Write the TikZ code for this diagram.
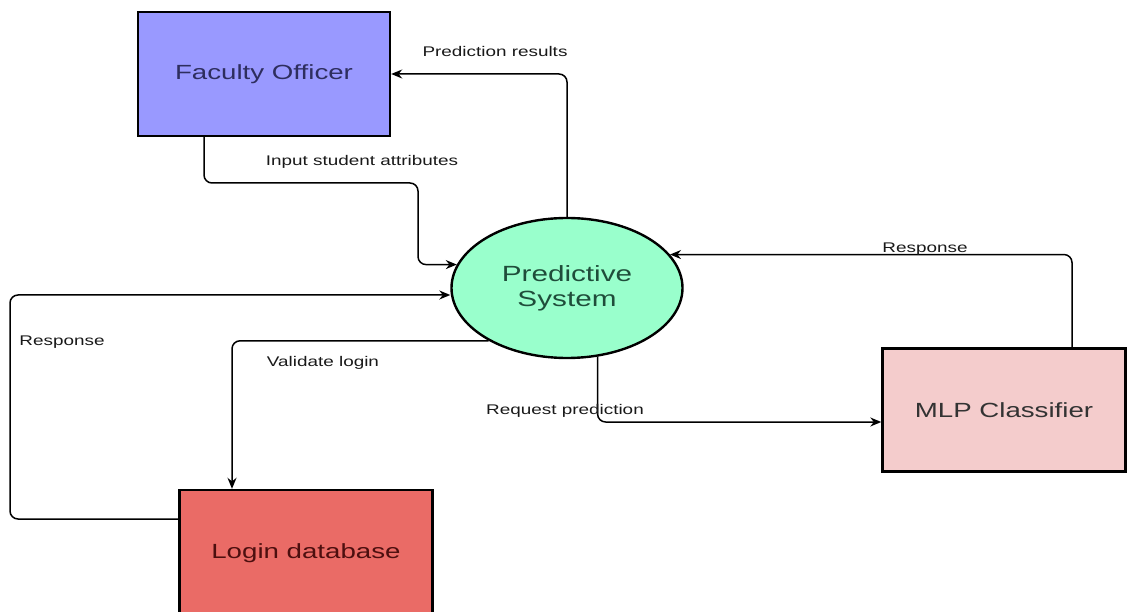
\documentclass[tikz,border=0pt]{standalone}
\usepackage{fontspec}
\setmainfont[FakeStretch=1.35]{Liberation Sans}
\usetikzlibrary{positioning, arrows.meta, shapes.geometric}
\usepackage{xcolor}

\definecolor{officerblue}{HTML}{9999FF}
\definecolor{officertext}{HTML}{2E2E5E}
\definecolor{systemgreen}{HTML}{99FFCC}
\definecolor{systemtext}{HTML}{1F4D3A}
\definecolor{mlppink}{HTML}{F4CCCC}
\definecolor{loginred}{HTML}{EA6B66}
\definecolor{logintext}{HTML}{4D0F0F}

\begin{document}
\begin{tikzpicture}[
    x=1pt, y=1pt,
    entity/.style={draw, rectangle, line width=2.4pt, minimum width=252pt, minimum height=124pt, align=center, font=\fontsize{20.5}{24}\selectfont},
    process/.style={draw, ellipse, line width=2.4pt, fill=systemgreen, text=systemtext, minimum width=231pt, minimum height=140pt, align=center, font=\fontsize{22}{25}\selectfont},
    lbl/.style={font=\fontsize{14}{16}\selectfont, text=black!90},
    arr/.style={-{Stealth[length=11pt, width=9pt]}, line width=1.5pt, rounded corners=8pt}
]
    \useasboundingbox (0,0) rectangle (1127,611);

    \node[entity, fill=officerblue, text=officertext] (officer) at (264,537) {Faculty Officer};
    \node[process] (predsys) at (567,323) {Predictive\\System};
    \node[entity, fill=mlppink, text=black!80, minimum width=243pt, minimum height=123pt] (mlp) at (1004,201) {MLP Classifier};
    \node[entity, fill=loginred, text=logintext, minimum width=253pt, minimum height=126pt] (logindb) at (306,58) {Login database};

    \coordinate (loopcorner) at (10,316);

    \draw[arr] ([xshift=-60pt]officer.south) |- (418,428) |- (predsys.168);
    \draw[arr] (predsys.north) |- (officer.east);
    \draw[arr] ([xshift=68pt]mlp.north) |- (predsys.18);
    \draw[arr] ([yshift=34pt]logindb.west) -| (loopcorner) -- (loopcorner -| predsys.west);
    \draw[arr] (predsys.214) -| ([xshift=-74pt]logindb.north);
    \draw[arr] (predsys.294) |- ([yshift=-12pt]mlp.west);

    % flow labels
    \node[lbl] (lblinput) at (362,449) {Input student attributes};
    \node[lbl] (lblresults) at (495,559) {Prediction results};
    \node[lbl] (lblmlpresp) at (925,362) {Response};
    \node[lbl] (lbldbresp) at (62,269) {Response};
    \node[lbl] (lblvalidate) at (323,248) {Validate login};
    \node[lbl] (lblrequest) at (565,200) {Request prediction};

\end{tikzpicture}
\end{document}
